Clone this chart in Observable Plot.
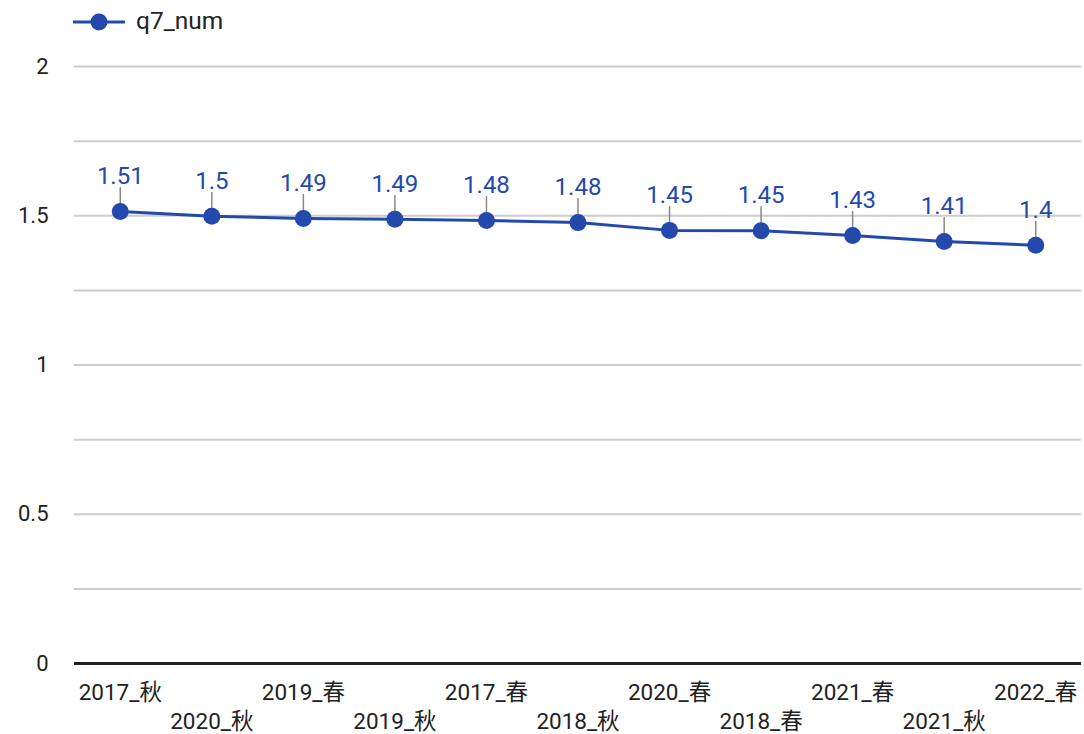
<!DOCTYPE html>
<html>
<head>
<meta charset="utf-8">
<script src="https://cdn.jsdelivr.net/npm/d3@7"></script>
<script src="https://cdn.jsdelivr.net/npm/@observablehq/plot@0.6"></script>
<style>
  html, body { margin: 0; padding: 0; background: #fff; }
  body { font-family: Roboto, "Noto Sans CJK SC", sans-serif; width: 1084px; height: 734px; overflow: hidden; }
  #legend { position: relative; height: 42px; }
  #legend svg { position: absolute; left: 70px; top: 8px; }
  #legend span { position: absolute; left: 136px; top: 7px; font-size: 24.5px; line-height: 28px; color: #222; }
  #chart svg { display: block; }
</style>
</head>
<body>
<div id="legend">
  <svg width="60" height="28"><line x1="3" x2="55" y1="14" y2="14" stroke="#2449ad" stroke-width="3"></line><circle cx="29" cy="14" r="8.5" fill="#2449ad"></circle></svg>
  <span>q7_num</span>
</div>
<div id="chart"></div>
<script>
const categories = ["2017_秋", "2020_秋", "2019_春", "2019_秋", "2017_春", "2018_秋", "2020_春", "2018_春", "2021_春", "2021_秋", "2022_春"];
const values = [1.514, 1.498, 1.491, 1.488, 1.484, 1.477, 1.451, 1.45, 1.434, 1.414, 1.401];
const labels = ["1.51", "1.5", "1.49", "1.49", "1.48", "1.48", "1.45", "1.45", "1.43", "1.41", "1.4"];
const yTickLabels = [0, 0.5, 1, 1.5, 2];
const gridValues = [0.25, 0.5, 0.75, 1, 1.25, 1.5, 1.75, 2];
const seriesName = "q7_num";

const blue = "#2449ad";
const data = categories.map((c, i) => ({category: c, value: values[i], label: labels[i], row: i % 2}));

const chart = Plot.plot({
  width: 1084,
  height: 692,
  marginTop: 24,
  marginBottom: 71,
  marginLeft: 74,
  marginRight: 3,
  style: {fontFamily: "Roboto, 'Noto Sans CJK SC', sans-serif", background: "#fff"},
  x: {type: "band", domain: categories, padding: 0, round: false, axis: null},
  y: {domain: [0, 2], axis: null},
  marks: [
    Plot.ruleY(gridValues, {stroke: "#cccccc", strokeWidth: 2}),
    Plot.ruleY([0], {stroke: "#222", strokeWidth: 3}),
    Plot.axisY(yTickLabels, {tickSize: 0, tickPadding: 26, fontSize: 22, fill: "#222", label: null, tickFormat: d => String(d)}),
    Plot.text(data.filter(d => d.row === 0), {x: "category", text: "category", frameAnchor: "bottom", dy: 29, fontSize: 22.5, fill: "#222", lineAnchor: "middle"}),
    Plot.text(data.filter(d => d.row === 1), {x: "category", text: "category", frameAnchor: "bottom", dy: 58, fontSize: 22.5, fill: "#222", lineAnchor: "middle"}),
    Plot.ruleX(data, {x: "category", y1: "value", y2: d => d.value + 0.08, stroke: "#888", strokeWidth: 1.5}),
    Plot.line(data, {x: "category", y: "value", stroke: blue, strokeWidth: 3}),
    Plot.dot(data, {x: "category", y: "value", r: 8.5, fill: blue, stroke: "none"}),
    Plot.text(data, {x: "category", y: "value", text: "label", dy: -35, fontSize: 24, fill: blue, lineAnchor: "middle"})
  ]
});
document.getElementById("chart").appendChild(chart);
</script>
</body>
</html>
